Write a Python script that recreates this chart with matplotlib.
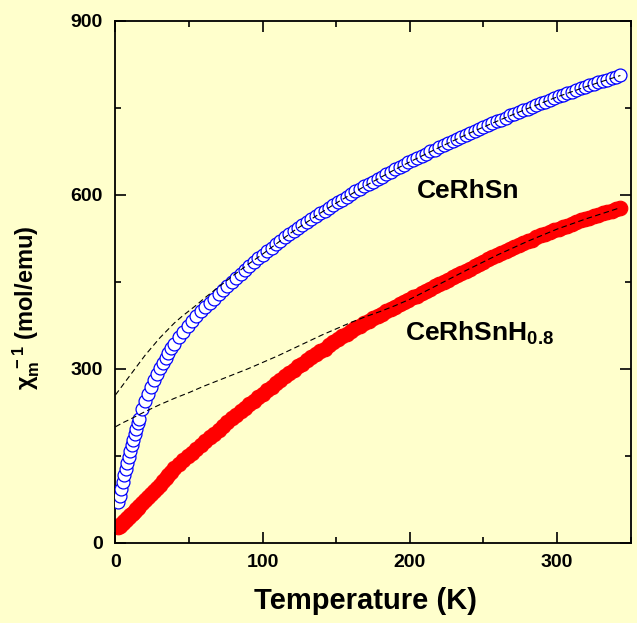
import matplotlib
matplotlib.use("Agg")
import matplotlib.pyplot as plt
from matplotlib.ticker import MultipleLocator

# measured temperatures (K)
T_meas = [2, 3, 4, 5, 6, 7, 8, 9, 10, 11, 12, 13, 14, 15, 16,
          18, 20, 22, 24, 26, 28, 30, 32, 34, 36, 38, 40,
          43, 46, 49, 52, 55, 58, 61, 64, 67, 70, 73, 76, 79, 82, 85, 88, 91, 94, 97, 100,
          103, 106, 109, 112, 115, 118, 121, 124, 127, 130,
          133, 136, 139, 142, 145, 148, 151, 154, 157, 160,
          163, 166, 169, 172, 175, 178, 181, 184, 187, 190,
          193, 196, 199, 202, 205, 208, 211, 214, 217, 220,
          223, 226, 229, 232, 235, 238, 241, 244, 247, 250,
          253, 256, 259, 262, 265, 268, 271, 274, 277, 280,
          283, 286, 289, 292, 295, 298, 301, 304, 307, 310,
          313, 316, 319, 322, 325, 328, 331, 334, 337, 340,
          343]

# inverse susceptibility, CeRhSn (open circles)
chi_CeRhSn = [70, 80, 93, 105, 116, 127, 138, 148, 158, 168, 178, 188, 197, 206, 214,
              230, 244, 257, 269, 280, 291, 301, 310, 319, 328, 336, 343,
              354, 364, 373, 382, 391, 399, 406, 413, 421, 429, 436, 443, 450, 457,
              464, 471, 478, 485, 491, 497,
              503, 509, 515, 521, 527, 532, 538, 543, 548, 553,
              558, 563, 568, 573, 578, 583, 588, 592, 597, 601,
              606, 610, 615, 619, 623, 627, 631, 636, 640, 644,
              648, 652, 656, 660, 664, 667, 671, 675, 678, 682,
              686, 689, 693, 697, 700, 704, 707, 710, 714, 717,
              720, 724, 727, 730, 733, 737, 740, 743, 746, 749,
              752, 755, 758, 761, 764, 767, 770, 773, 775, 778,
              781, 784, 786, 789, 792, 794, 797, 799, 802, 804,
              806]

# inverse susceptibility, CeRhSnH0.8 (filled circles)
chi_CeRhSnH = [27, 29, 32, 34, 37, 39, 42, 45, 47, 50, 52, 55, 58, 60, 63,
               68, 74, 79, 84, 90, 95, 100, 106, 111, 117, 122, 128,
               135, 142, 149, 155, 162, 168, 175, 182, 188, 195, 201, 208, 215, 221,
               227, 233, 239, 245, 251, 257,
               263, 269, 275, 281, 287, 292, 298, 304, 309, 315,
               320, 325, 330, 335, 341, 346, 351, 356, 360, 365,
               370, 374, 379, 383, 387, 391, 395, 399, 403, 407,
               411, 415, 419, 423, 426, 430, 434, 438, 442, 446,
               450, 454, 458, 462, 466, 469, 473, 477, 481, 485,
               489, 492, 496, 499, 503, 507, 510, 513, 517, 520,
               523, 527, 530, 533, 536, 539, 542, 544, 547, 550,
               553, 556, 558, 561, 563, 565, 568, 570, 573, 575,
               577]

# fit curves (dashed)
T_fit_a = [0, 5, 10, 15, 20, 25, 30, 35, 40, 45, 50, 55, 60, 65, 70, 75, 80,
           90, 100, 110, 120, 130, 140, 150, 160, 170, 180, 190, 200,
           220, 240, 260, 280, 300, 320, 343]
chi_fit_a = [255, 272, 289, 306, 323, 338, 353, 366, 379, 390, 400, 410, 421, 431, 441, 451, 461,
             480, 498, 517, 536, 553, 570, 586, 601, 616, 630, 644, 657,
             682, 706, 728, 749, 769, 787, 806]

T_fit_b = [0, 5, 10, 20, 30, 40, 50, 60, 70, 80, 90, 100, 110, 120, 130, 140, 150,
           160, 170, 180, 190, 200, 210, 220, 240, 260, 280, 300, 320, 343]
chi_fit_b = [200, 207, 213, 226, 238, 249, 259, 270, 280, 290, 300, 311, 322, 334, 346, 358, 369,
             380, 390, 399, 409, 420, 433, 446, 472, 497, 520, 541, 559, 578]

BG = '#FFFFCC'

plt.rcParams['font.family'] = ['Liberation Sans', 'DejaVu Sans']
plt.rcParams['font.weight'] = 'bold'
plt.rcParams['mathtext.fontset'] = 'custom'
plt.rcParams['mathtext.rm'] = 'Liberation Sans:bold'
plt.rcParams['mathtext.it'] = 'Liberation Sans:bold'
plt.rcParams['mathtext.bf'] = 'Liberation Sans:bold'
plt.rcParams['mathtext.default'] = 'rm'

fig = plt.figure(figsize=(6.37, 6.23), dpi=100, facecolor=BG)
ax = fig.add_axes([0.1813, 0.1289, 0.8088, 0.8374])
ax.set_facecolor(BG)

ax.plot(T_meas, chi_CeRhSnH, 'o', ms=10.5, mfc='#FF0000', mec='#FF0000', mew=0.8, zorder=2)
ax.plot(T_meas, chi_CeRhSn, 'o', ms=9.3, mfc='white', mec='#0000FF', mew=0.9, zorder=3)
ax.plot(T_fit_a, chi_fit_a, color='black', lw=0.8, dashes=(5, 3), zorder=4)
ax.plot(T_fit_b, chi_fit_b, color='black', lw=0.8, dashes=(5, 3), zorder=4)

ax.text(204.6, 594, 'CeRhSn', fontsize=19, fontweight='bold', ha='left', va='baseline')
ax.text(196.7, 349, r'CeRhSnH$_{0.8}$', fontsize=19, fontweight='bold', ha='left', va='baseline')

ax.set_xlim(0, 350)
ax.set_ylim(0, 900)
ax.xaxis.set_major_locator(MultipleLocator(100))
ax.xaxis.set_minor_locator(MultipleLocator(50))
ax.yaxis.set_major_locator(MultipleLocator(300))
ax.yaxis.set_minor_locator(MultipleLocator(150))

ax.tick_params(which='both', direction='in', top=True, right=True, width=1.2, labelsize=14)
ax.tick_params(which='major', length=8)
ax.tick_params(which='minor', length=4.5)
ax.tick_params(axis='x', pad=8)
ax.tick_params(axis='y', pad=9)
for s in ax.spines.values():
    s.set_linewidth(1.3)

ax.set_xlabel('Temperature (K)', fontsize=21, fontweight='bold', va='top')
ax.xaxis.set_label_coords(0.485, -0.085)
ax.set_ylabel(r'$\chi_m^{\ -1}$ (mol/emu)', fontsize=17, fontweight='bold')
ax.yaxis.set_label_coords(-0.143, 0.451)

fig.savefig('out.png', dpi=100, facecolor=BG)
